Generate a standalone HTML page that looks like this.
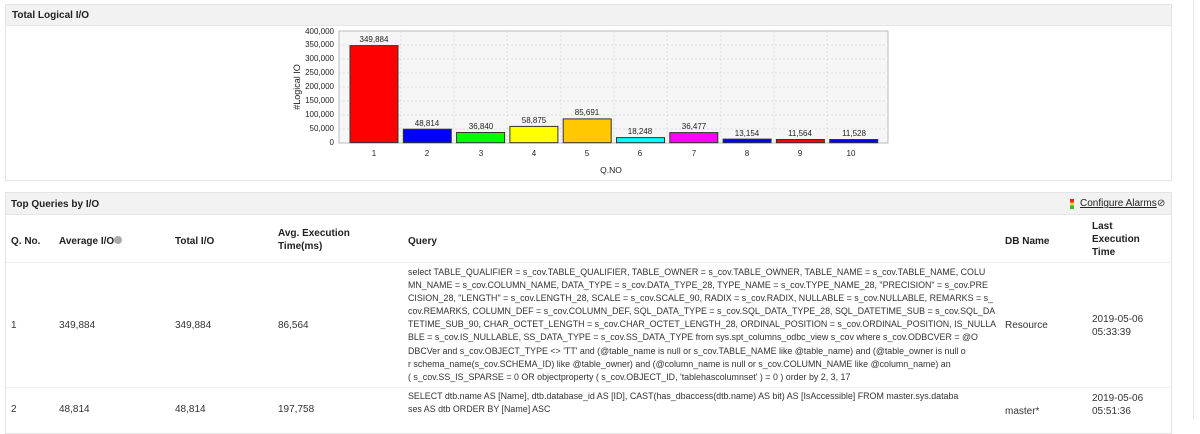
<!DOCTYPE html>
<html><head><meta charset="utf-8"><style>
body{margin:0;width:1200px;height:419px;overflow:hidden;background:#fff;font-family:"Liberation Sans",sans-serif;position:relative}
.a{position:absolute;white-space:nowrap}
.panel{position:absolute;border:1px solid #e4e4e4;background:#fff}
.hd{position:absolute;background:#f2f2f2;border-bottom:1px solid #e6e6e6}
.b{font-weight:bold;font-size:10px;color:#222}
.t{font-size:10px;color:#333}
.q{font-size:8.9px;color:#333;line-height:13.1px}
</style></head><body>
<div class="panel" style="left:5px;top:4px;width:1165px;height:175px"></div>
<div class="hd" style="left:6px;top:5px;width:1165px;height:20px"></div>
<div class="a b" style="left:12px;top:10px">Total Logical I/O</div>
<svg class="a" style="left:0;top:0" width="1200" height="190" font-family="Liberation Sans,sans-serif">
<rect x="339" y="31" width="549" height="112" fill="#f6f6f6" stroke="#bbb"/>
<g stroke="#ddd" stroke-dasharray="2,2">
<line x1="339" x2="888" y1="45" y2="45"/><line x1="339" x2="888" y1="59" y2="59"/><line x1="339" x2="888" y1="73" y2="73"/><line x1="339" x2="888" y1="87" y2="87"/><line x1="339" x2="888" y1="101" y2="101"/><line x1="339" x2="888" y1="115" y2="115"/><line x1="339" x2="888" y1="129" y2="129"/>
<line x1="401" x2="401" y1="31" y2="143"/><line x1="454" x2="454" y1="31" y2="143"/><line x1="507" x2="507" y1="31" y2="143"/><line x1="561" x2="561" y1="31" y2="143"/><line x1="614" x2="614" y1="31" y2="143"/><line x1="667" x2="667" y1="31" y2="143"/><line x1="721" x2="721" y1="31" y2="143"/><line x1="774" x2="774" y1="31" y2="143"/><line x1="827" x2="827" y1="31" y2="143"/>
</g>
<g font-size="8" fill="#222" text-anchor="end">
<text x="334" y="145">0</text><text x="334" y="131">50,000</text><text x="334" y="117">100,000</text><text x="334" y="103">150,000</text><text x="334" y="89">200,000</text><text x="334" y="75">250,000</text><text x="334" y="61">300,000</text><text x="334" y="47">350,000</text><text x="334" y="34">400,000</text>
</g>
<text transform="translate(300,87) rotate(-90)" font-size="9" text-anchor="middle" fill="#222">#Logical IO</text>
<g stroke="#333" stroke-width="1">
<rect x="350" y="45.6" width="48" height="97" fill="#ff0000"/>
<rect x="403.3" y="129.2" width="48" height="13.5" fill="#0000ff"/>
<rect x="456.6" y="132.5" width="48" height="10.2" fill="#00ff00"/>
<rect x="509.9" y="126.4" width="48" height="16.3" fill="#ffff00"/>
<rect x="563.2" y="118.9" width="48" height="23.8" fill="#ffc800"/>
<rect x="616.5" y="137.6" width="48" height="5.1" fill="#00ffff"/>
<rect x="669.8" y="132.6" width="48" height="10.1" fill="#ff00ff"/>
<rect x="723.1" y="139.1" width="48" height="3.6" fill="#0000ff"/>
<rect x="776.4" y="139.5" width="48" height="3.2" fill="#ff0000"/>
<rect x="829.7" y="139.5" width="48" height="3.2" fill="#0000ff"/>
</g>
<g font-size="8" fill="#222" text-anchor="middle">
<text x="374" y="42">349,884</text><text x="427" y="126">48,814</text><text x="481" y="129">36,840</text><text x="534" y="123">58,875</text><text x="587" y="115">85,691</text><text x="640" y="134">18,248</text><text x="694" y="129">36,477</text><text x="747" y="136">13,154</text><text x="800" y="136">11,564</text><text x="854" y="136">11,528</text>
<text x="374" y="156">1</text><text x="427" y="156">2</text><text x="481" y="156">3</text><text x="534" y="156">4</text><text x="587" y="156">5</text><text x="640" y="156">6</text><text x="694" y="156">7</text><text x="747" y="156">8</text><text x="800" y="156">9</text><text x="851" y="156">10</text>
<text x="611" y="173" font-size="8.5">Q.NO</text>
</g>
</svg>
<div style="position:absolute;left:1193px;top:0;width:1px;height:419px;background:#e8e8e8"></div>
<div class="panel" style="left:5px;top:192px;width:1165px;height:240px"></div>
<div class="hd" style="left:6px;top:193px;width:1165px;height:21px"></div>
<div class="a b" style="left:11px;top:199px">Top Queries by I/O</div>
<div class="a" style="left:1070px;top:199px;width:4px;height:10px;background:linear-gradient(#e22 0 33%,#ec3 33% 66%,#3b3 66%)"></div>
<div class="a t" style="left:1080px;top:198px;text-decoration:underline;color:#222">Configure Alarms</div>
<div class="a t" style="left:1157px;top:198px">⊘</div>
<div class="a b" style="left:11px;top:236px">Q. No.</div>
<div class="a b" style="left:59px;top:236px">Average I/O<span style="display:inline-block;width:8px;height:8px;border-radius:50%;background:#aaa;vertical-align:top"></span></div>
<div class="a b" style="left:175px;top:236px">Total I/O</div>
<div class="a b" style="left:278px;top:227px;line-height:13px">Avg. Execution<br>Time(ms)</div>
<div class="a b" style="left:408px;top:236px">Query</div>
<div class="a b" style="left:1005px;top:236px">DB Name</div>
<div class="a b" style="left:1092px;top:220px;line-height:13px">Last<br>Execution<br>Time</div>
<div class="a" style="left:6px;top:262px;width:1165px;height:1px;background:#eee"></div>
<div class="a" style="left:6px;top:387px;width:1165px;height:1px;background:#eee"></div>
<div class="a t" style="left:11px;top:320px">1</div>
<div class="a t" style="left:59px;top:320px">349,884</div>
<div class="a t" style="left:175px;top:320px">349,884</div>
<div class="a t" style="left:278px;top:320px">86,564</div>
<div class="a t" style="left:1005px;top:320px">Resource</div>
<div class="a t" style="left:1092px;top:313px;line-height:13px">2019-05-06<br>05:33:39</div>
<div class="a q" style="left:408px;top:266px">select TABLE_QUALIFIER = s_cov.TABLE_QUALIFIER, TABLE_OWNER = s_cov.TABLE_OWNER, TABLE_NAME = s_cov.TABLE_NAME, COLU<br>MN_NAME = s_cov.COLUMN_NAME, DATA_TYPE = s_cov.DATA_TYPE_28, TYPE_NAME = s_cov.TYPE_NAME_28, "PRECISION" = s_cov.PRE<br>CISION_28, "LENGTH" = s_cov.LENGTH_28, SCALE = s_cov.SCALE_90, RADIX = s_cov.RADIX, NULLABLE = s_cov.NULLABLE, REMARKS = s_<br>cov.REMARKS, COLUMN_DEF = s_cov.COLUMN_DEF, SQL_DATA_TYPE = s_cov.SQL_DATA_TYPE_28, SQL_DATETIME_SUB = s_cov.SQL_DA<br>TETIME_SUB_90, CHAR_OCTET_LENGTH = s_cov.CHAR_OCTET_LENGTH_28, ORDINAL_POSITION = s_cov.ORDINAL_POSITION, IS_NULLA<br>BLE = s_cov.IS_NULLABLE, SS_DATA_TYPE = s_cov.SS_DATA_TYPE from sys.spt_columns_odbc_view s_cov where s_cov.ODBCVER = @O<br>DBCVer and s_cov.OBJECT_TYPE &lt;&gt; 'TT' and (@table_name is null or s_cov.TABLE_NAME like @table_name) and (@table_owner is null o<br>r schema_name(s_cov.SCHEMA_ID) like @table_owner) and (@column_name is null or s_cov.COLUMN_NAME like @column_name) an<br>( s_cov.SS_IS_SPARSE = 0 OR objectproperty ( s_cov.OBJECT_ID, 'tablehascolumnset' ) = 0 ) order by 2, 3, 17</div>
<div class="a t" style="left:11px;top:404px">2</div>
<div class="a t" style="left:59px;top:404px">48,814</div>
<div class="a t" style="left:175px;top:404px">48,814</div>
<div class="a t" style="left:278px;top:404px">197,758</div>
<div class="a t" style="left:1005px;top:406px">master*</div>
<div class="a t" style="left:1092px;top:392px;line-height:13px">2019-05-06<br>05:51:36</div>
<div class="a q" style="left:408px;top:390px">SELECT dtb.name AS [Name], dtb.database_id AS [ID], CAST(has_dbaccess(dtb.name) AS bit) AS [IsAccessible] FROM master.sys.databa<br>ses AS dtb ORDER BY [Name] ASC</div>
</body></html>
